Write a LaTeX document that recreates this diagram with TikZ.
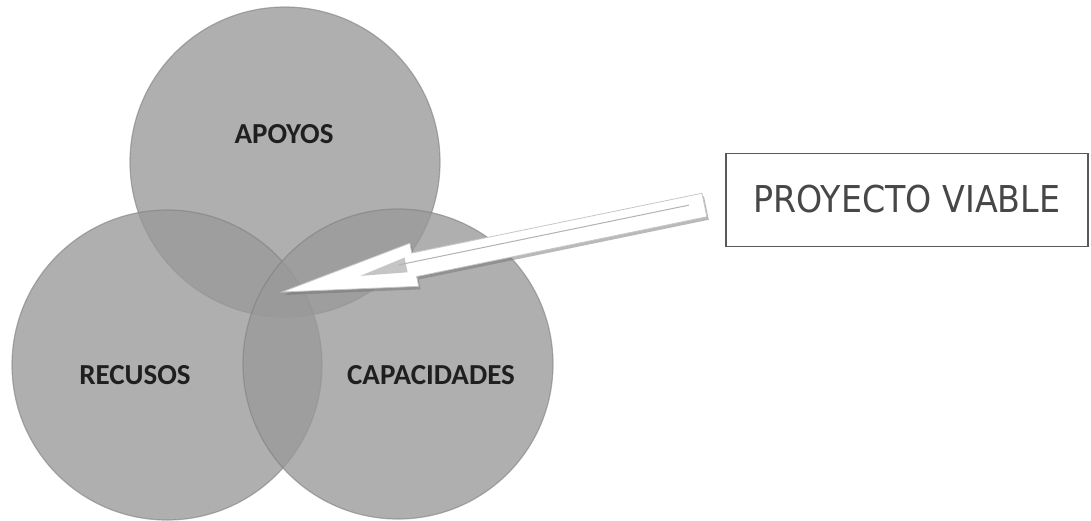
\documentclass[tikz,border=0pt]{standalone}
\usepackage{fontspec}
\setmainfont{Carlito}
\newfontfamily\boxfont{DejaVu Sans Condensed}
\usetikzlibrary{calc,shadows}

\tikzset{
  venn/.style={circle,draw=black!50,line width=1.2pt,fill=black!40,fill opacity=0.78,draw opacity=0.6,minimum size=310pt,inner sep=0pt},
  venntext/.style={font=\bfseries\fontsize{29}{30}\selectfont,text=black!88},
  viablebox/.style={draw=black!65,line width=1.2pt,fill=white,minimum width=362pt,minimum height=93pt,inner sep=0pt,font=\boxfont\fontsize{37}{40}\selectfont,text=black!72},
  bigarrow/.style={fill=white,draw=black!22,line width=0.8pt,drop shadow={shadow xshift=2pt,shadow yshift=-3pt,opacity=0.5,fill=black!55}},
}

\begin{document}
\begin{tikzpicture}[x=1pt,y=-1pt]
  \useasboundingbox (0,0) rectangle (1091,520);
  % the three sets
  \node[venn] (apoyos) at (285,162) {};
  \node[venn] (recursos) at (167,365) {};
  \node[venn] (capacidades) at (398,364) {};
  \node[venntext] (tapoyos) at (284,134) {APOYOS};
  \node[venntext] (trecursos) at (135,375) {RECUSOS};
  \node[venntext] (tcapacidades) at (431,375) {CAPACIDADES};
  % label box
  \node[viablebox] (viable) at (907,200) {\raisebox{3pt}{PROYECTO VIABLE}};
  % block arrow from the box into the middle
  \coordinate (tip) at (282,292);
  \coordinate (tail) at ([xshift=-21pt,yshift=-5pt]viable.west);
  \coordinate (hb) at ($(tip)!135pt!(tail)$);
  \path[bigarrow] (tip) -- ($(hb)!22pt!90:(tail)$) -- ($(hb)!12pt!90:(tail)$)
    -- ($(tail)!12pt!-90:(tip)$) -- ($(tail)!12pt!90:(tip)$)
    -- ($(hb)!12pt!-90:(tail)$) -- ($(hb)!22pt!-90:(tail)$) -- cycle;
  \fill[black!45,opacity=0.5] ($(tip)!80pt!(tail)$) -- ($($(tip)!127pt!(tail)$)!9pt!90:(tail)$) -- ($($(tip)!127pt!(tail)$)!6pt!-90:(tail)$) -- cycle;
  \draw[black!30,line width=1pt] ($($(tip)!120pt!(tail)$)!3pt!90:(tail)$) -- ($($(tip)!416pt!(tail)$)!3pt!90:(tail)$);
\end{tikzpicture}
\end{document}
